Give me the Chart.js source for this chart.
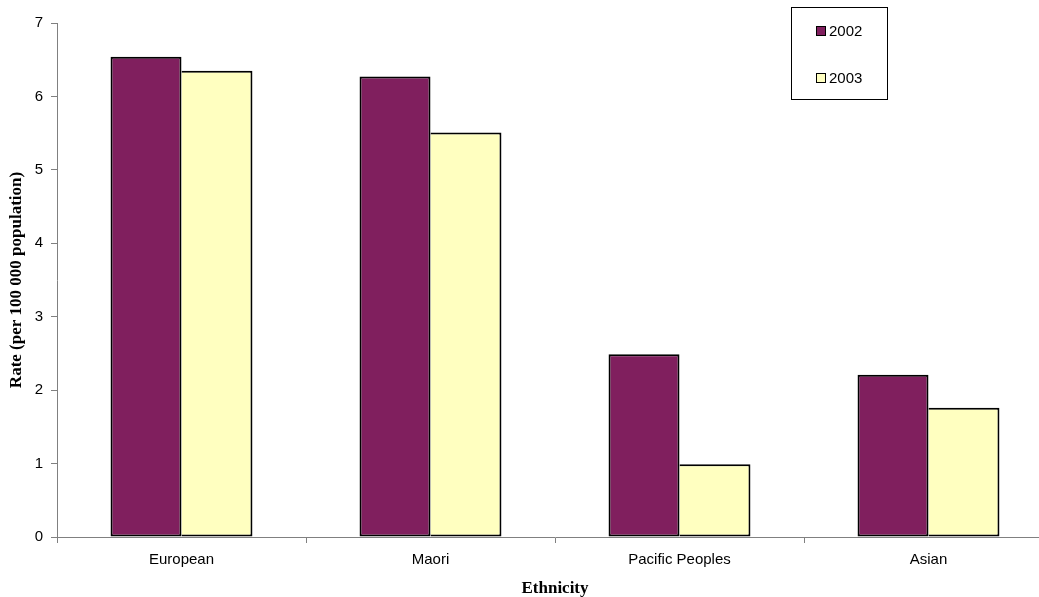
<!DOCTYPE html>
<html>
<head>
<meta charset="utf-8">
<script src="https://cdn.jsdelivr.net/npm/chart.js@4/dist/chart.umd.min.js"></script>
<style>
  html, body { margin: 0; padding: 0; background: #fff; overflow: hidden; }
  #wrap { width: 1053px; height: 597px; }
</style>
</head>
<body>
<div id="wrap"><canvas id="c" width="1053" height="597"></canvas></div>
<script>
// Rate per 100 000 population by ethnicity
const categories = ['European', 'Maori', 'Pacific Peoples', 'Asian'];
const seriesNames = ['2002', '2003'];
const rates2002 = [6.54, 6.27, 2.49, 2.21];
const rates2003 = [6.35, 5.51, 0.99, 1.76];
const yTicks = [0, 1, 2, 3, 4, 5, 6, 7];

const PLUM = '#801F5E';
const CREAM = '#FFFFC0';
const AXIS_GREY = '#808080';
const SANS = "'Liberation Sans', Arial, sans-serif";
const SERIF = "'Liberation Serif', 'Times New Roman', serif";

// Boxed legend in the upper right corner
const boxLegend = {
  id: 'boxLegend',
  afterDraw(chart) {
    const ctx = chart.ctx;
    const bx = 791.5, by = 7.5, bw = 96, bh = 92;
    ctx.save();
    ctx.fillStyle = '#fff';
    ctx.fillRect(bx, by, bw, bh);
    ctx.strokeStyle = '#000';
    ctx.lineWidth = 1;
    ctx.strokeRect(bx, by, bw, bh);
    const rows = [31, 78];
    ctx.font = '15px ' + SANS;
    ctx.textBaseline = 'middle';
    ctx.textAlign = 'left';
    chart.data.datasets.forEach((ds, i) => {
      const cy = rows[i];
      ctx.fillStyle = ds.backgroundColor;
      ctx.fillRect(816.5, cy - 4.5, 9, 9);
      ctx.strokeStyle = '#000';
      ctx.strokeRect(816.5, cy - 4.5, 9, 9);
      ctx.fillStyle = '#000';
      ctx.fillText(ds.label, 829, cy + 1);
    });
    ctx.restore();
  }
};

new Chart(document.getElementById('c'), {
  type: 'bar',
  data: {
    labels: categories,
    datasets: [
      {
        label: seriesNames[0], data: rates2002, backgroundColor: PLUM, borderColor: '#000',
        borderWidth: { top: 2, left: 2, right: 2, bottom: 2 }, borderSkipped: false
      },
      {
        // shares its left edge with the neighbouring 2002 bar
        label: seriesNames[1], data: rates2003, backgroundColor: CREAM, borderColor: '#000',
        borderWidth: { top: 2, left: 0, right: 2, bottom: 2 }, borderSkipped: false
      }
    ]
  },
  options: {
    responsive: false,
    animation: false,
    layout: { padding: { top: 23, right: 0, left: 0, bottom: 0 } },
    datasets: { bar: { categoryPercentage: 0.57, barPercentage: 1.0 } },
    plugins: {
      legend: { display: false },
      tooltip: { enabled: false }
    },
    scales: {
      x: {
        afterFit(scale) { scale.height = 60; },
        grid: {
          offset: true,
          drawOnChartArea: false,
          drawTicks: true,
          tickLength: 6,
          color: AXIS_GREY
        },
        border: { color: AXIS_GREY, width: 1 },
        ticks: { color: '#000', font: { family: SANS, size: 15 }, padding: 8, maxRotation: 0 },
        title: {
          display: true,
          text: 'Ethnicity',
          color: '#000',
          font: { family: SERIF, size: 17, weight: 'bold', lineHeight: 1 },
          padding: { top: 0, bottom: 0 }
        }
      },
      y: {
        min: 0,
        max: 7,
        afterFit(scale) { scale.width = 57; },
        afterBuildTicks(scale) { scale.ticks = yTicks.map(v => ({ value: v })); },
        grid: {
          drawOnChartArea: false,
          drawTicks: true,
          tickLength: 6,
          color: AXIS_GREY
        },
        border: { color: AXIS_GREY, width: 1 },
        ticks: { color: '#000', font: { family: SANS, size: 15 }, padding: 8, stepSize: 1 },
        title: {
          display: true,
          text: 'Rate (per 100 000 population)',
          color: '#000',
          font: { family: SERIF, size: 17, weight: 'bold', lineHeight: 1 },
          padding: { top: 8, bottom: 0 }
        }
      }
    }
  },
  plugins: [boxLegend]
});
</script>
</body>
</html>
